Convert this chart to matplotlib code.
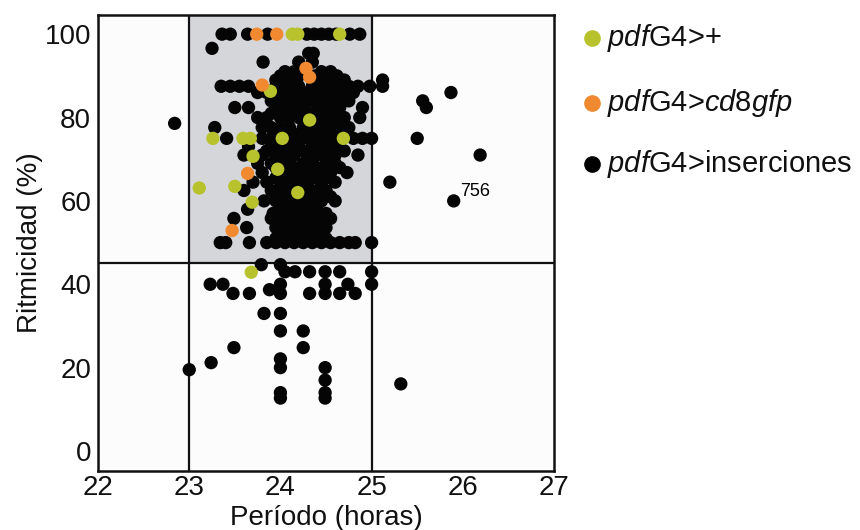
import matplotlib
matplotlib.use("Agg")
import matplotlib.pyplot as plt
from matplotlib.patches import Rectangle
from matplotlib.lines import Line2D

plt.rcParams['font.family'] = ['Liberation Sans', 'DejaVu Sans']
plt.rcParams['mathtext.fontset'] = 'custom'
plt.rcParams['mathtext.rm'] = 'Liberation Sans'
plt.rcParams['mathtext.it'] = 'Liberation Sans:italic'

# ---- data ----
x_ticks = [22, 23, 24, 25, 26, 27]
y_ticks = [0, 20, 40, 60, 80, 100]
threshold_period = [23, 25]
threshold_rhythm = 45

# pdfG4>+  (green)
green_period = [24.13, 24.19, 24.65, 23.26, 23.59, 23.67, 24.02, 24.69, 24.32, 23.89,
                23.11, 23.50, 23.70, 23.69, 23.97, 24.19, 23.68]
green_rhythm = [100, 100, 100, 75, 75, 75, 75, 75, 79.4, 86.3,
                63.1, 63.5, 70.7, 59.7, 67.6, 62.0, 42.9]

# pdfG4>cd8gfp (orange)
orange_period = [23.74, 23.96, 24.28, 24.32, 23.80, 23.64, 23.47]
orange_rhythm = [100, 100, 91.8, 89.7, 87.8, 66.6, 52.9]

# pdfG4>inserciones (black), grouped by rhythmicity value
black_rows = {
    100: [23.36, 23.45, 23.64, 23.86, 24.29, 24.37, 24.45, 24.53, 24.61, 24.76, 24.87],
    96.6: [23.25],
    95.4: [24.31, 24.36],
    93.3: [23.81, 24.20, 24.35],
    91: [24.05, 24.15, 24.25, 24.45, 24.55],
    90: [24.00, 24.10, 24.20, 24.38, 24.62],
    89: [23.95, 24.05, 24.15, 24.40, 24.50, 24.60, 24.70, 25.12],
    87.5: [23.35, 23.45, 23.55, 23.65, 23.95, 24.00, 24.10, 24.20, 24.35, 24.45,
           24.55, 24.65, 24.75, 24.85, 24.98, 25.12],
    86: [23.75, 23.85, 24.05, 24.25, 24.40, 24.55, 24.70, 24.80, 25.87],
    85: [23.95, 24.15, 24.35, 24.50, 24.65],
    84: [23.90, 24.00, 24.10, 24.20, 24.30, 24.45, 24.60, 24.75, 25.56],
    82.4: [23.50, 23.65, 23.95, 24.05, 24.15, 24.25, 24.40, 24.50, 24.65, 24.90, 25.60],
    81: [23.90, 24.05, 24.30, 24.45, 24.58],
    80: [23.75, 23.85, 24.00, 24.10, 24.20, 24.40, 24.50, 24.60, 24.70, 24.87],
    78.6: [22.84],
    77.6: [23.28, 23.80, 23.90, 24.00, 24.10, 24.25, 24.35, 24.45, 24.55, 24.65, 24.75],
    76: [23.95, 24.05, 24.15, 24.25, 24.35, 24.45, 24.55],
    75: [23.41, 23.80, 23.90, 24.10, 24.20, 24.30, 24.40, 24.50, 24.60, 24.80,
         24.90, 25.00, 25.50],
    73: [23.65, 23.90, 24.00, 24.10, 24.20, 24.35, 24.45, 24.55, 24.65],
    72: [23.85, 24.05, 24.25, 24.50, 24.70],
    71: [23.60, 23.80, 23.95, 24.05, 24.15, 24.30, 24.40, 24.50, 24.60, 24.85, 26.19],
    69: [23.75, 23.90, 24.00, 24.10, 24.25, 24.35, 24.50, 24.60],
    68: [23.95, 24.05, 24.20, 24.30, 24.40, 24.65],
    66.8: [23.80, 24.05, 24.15, 24.25, 24.35, 24.45, 24.55, 24.73],
    65.5: [23.95, 24.15, 24.35, 24.50],
    64.5: [23.70, 23.85, 24.00, 24.10, 24.20, 24.30, 24.45, 24.60, 25.20],
    62.5: [23.60, 23.90, 24.00, 24.10, 24.30, 24.40, 24.50],
    61: [23.95, 24.05, 24.25, 24.35, 24.55],
    60: [23.82, 23.95, 24.05, 24.15, 24.25, 24.35, 24.45, 24.60, 25.90],
    58: [23.64, 24.00, 24.10, 24.20, 24.30, 24.40],
    57: [23.92, 24.05, 24.15, 24.25, 24.35, 24.50],
    55.8: [23.49, 23.90, 24.00, 24.10, 24.20, 24.30, 24.45, 24.55],
    54.5: [23.98, 24.12, 24.22, 24.40],
    53.6: [23.63, 23.95, 24.05, 24.15, 24.25, 24.35, 24.50],
    52: [24.00, 24.10, 24.20, 24.30, 24.40],
    51: [23.95, 24.05, 24.15, 24.25, 24.35, 24.50],
    50: [23.34, 23.40, 23.66, 23.85, 23.95, 24.05, 24.15, 24.25, 24.35, 24.45,
         24.55, 24.65, 24.75, 24.82, 25.00],
    44.7: [23.79, 24.00],
    43: [24.05, 24.16, 24.32, 24.49, 24.65, 25.00],
    40: [23.23, 23.37, 24.00, 24.49, 24.74, 25.00],
    38.7: [23.88],
    37.8: [23.48, 23.66, 24.00, 24.32, 24.49, 24.65, 24.82],
    33: [23.82, 24.00],
    28.8: [24.00, 24.25],
    24.8: [23.49, 24.25],
    22.1: [24.00],
    21.2: [23.24],
    20: [24.00, 24.49],
    19.5: [23.00],
    17: [24.49],
    16.1: [25.32],
    14: [24.00, 24.49],
    12.7: [24.00, 24.49],
}
black_period = [p for r, ps in black_rows.items() for p in ps]
black_rhythm = [r for r, ps in black_rows.items() for p in ps]

label_756 = (25.90, 59.6, "756")

legend_labels = [r'$\mathit{pdf}$G4>+', r'$\mathit{pdf}$G4>$\mathit{cd8gfp}$',
                 r'$\mathit{pdf}$G4>inserciones']
legend_colors = ['#b7c22c', '#f0892f', '#000000']

# ---- figure ----
fig = plt.figure(figsize=(8.6, 5.3), dpi=100)
fig.patch.set_facecolor('white')
ax = fig.add_axes([0.1140, 0.1113, 0.5302, 0.8604])
ax.set_xlim(22, 27)
ax.set_ylim(-4.8, 104.6)
ax.set_facecolor('#fcfcfc')

ax.add_patch(Rectangle((threshold_period[0], threshold_rhythm),
                       threshold_period[1] - threshold_period[0], 104.6 - threshold_rhythm,
                       facecolor='#d5d6da', edgecolor='none', zorder=0))
for xv in threshold_period:
    ax.axvline(xv, color='#111111', lw=1.6, zorder=1)
ax.axhline(threshold_rhythm, color='#111111', lw=1.6, zorder=1)

ms = 92
ax.scatter(black_period, black_rhythm, s=ms, color='#050505', edgecolors='none', zorder=3)
ax.scatter(green_period, green_rhythm, s=ms, color=legend_colors[0], edgecolors='none', zorder=4)
ax.scatter(orange_period, orange_rhythm, s=ms, color=legend_colors[1], edgecolors='none', zorder=4)

ax.text(label_756[0] + 0.07, label_756[1] + 0.6, label_756[2], fontsize=13,
        ha='left', va='bottom', zorder=5)

for sp in ax.spines.values():
    sp.set_linewidth(1.8)
    sp.set_color('#111111')

ax.set_xticks(x_ticks)
ax.set_yticks(y_ticks)
ax.tick_params(axis='both', length=0, labelsize=20, colors='#111111')
ax.tick_params(axis='x', pad=3)
ax.tick_params(axis='y', pad=5)
ax.set_xlabel('Período (horas)', fontsize=20, labelpad=3, color='#111111')
ax.set_ylabel('Ritmicidad (%)', fontsize=20, labelpad=1, color='#111111')

# legend drawn manually
leg_y = [1 - 38 / 530, 1 - 103 / 530, 1 - 164 / 530]
for lab, col, yy in zip(legend_labels, legend_colors, leg_y):
    fig.add_artist(Line2D([592 / 860], [yy], marker='o', markersize=12, color=col,
                          markeredgewidth=0, linestyle='none', transform=fig.transFigure))
    fig.text(607 / 860, yy, lab, fontsize=21, va='center', ha='left', color='#111111')

fig.savefig('out.png', dpi=100)
